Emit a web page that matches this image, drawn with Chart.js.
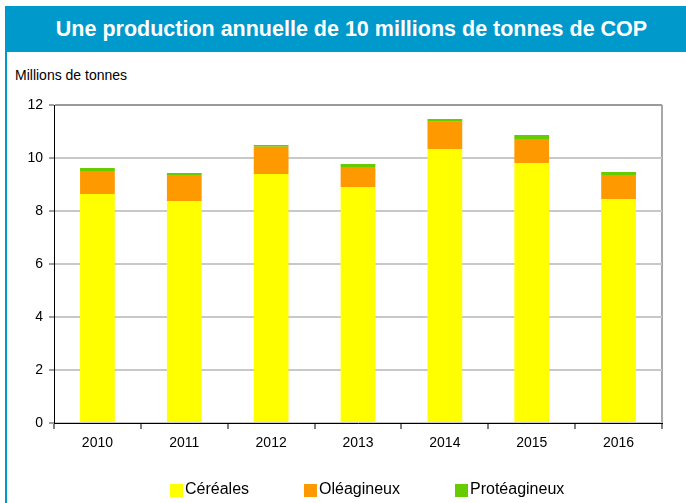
<!DOCTYPE html>
<html lang="fr">
<head>
    <meta charset="UTF-8">
    <title>Une production annuelle de 10 millions de tonnes de COP</title>
    <style>
        body {
            margin: 0;
            width: 686px;
            height: 503px;
            overflow: hidden;
            position: relative;
            background: #fff;
            font-family: "Liberation Sans", Arial, sans-serif;
        }
        #bandeau {
            position: absolute;
            left: 5px;
            top: 6px;
            width: 693px;
            height: 46px;
            background: #0099CC;
            color: #fff;
            font-weight: bold;
            font-size: 21.5px;
            line-height: 46px;
            text-align: center;
            white-space: nowrap;
        }
        #bord {
            position: absolute;
            left: 5px;
            top: 52px;
            width: 2px;
            height: 460px;
            background: #0099CC;
        }
        #unite {
            position: absolute;
            left: 15px;
            top: 67px;
            font-size: 14px;
            color: #000;
        }
        canvas {
            position: absolute;
            left: 0;
            top: 0;
        }
        #legende {
            position: absolute;
            left: 170px;
            top: 480px;
            display: flex;
            gap: 55px;
            font-size: 16px;
            color: #000;
        }
        #legende span.item {
            display: flex;
            align-items: center;
            gap: 2px;
        }
        #legende span.boite {
            display: inline-block;
            width: 13px;
            height: 13px;
            margin-top: 3px;
        }
    </style>
</head>
<body>
    <div id="bandeau">Une production annuelle de 10 millions de tonnes de COP</div>
    <div id="bord"></div>
    <div id="unite">Millions de tonnes</div>
    <canvas id="graph" width="686" height="503"></canvas>
    <div id="legende"></div>

    <script src="https://cdn.jsdelivr.net/npm/chart.js"></script>
    <script>
        // Données (millions de tonnes)
        const annees = ['2010', '2011', '2012', '2013', '2014', '2015', '2016'];
        const cereales = [8.64, 8.38, 9.40, 8.91, 10.34, 9.81, 8.45];
        const oleagineux = [0.87, 0.98, 1.02, 0.75, 1.03, 0.91, 0.91];
        const proteagineux = [0.11, 0.07, 0.07, 0.11, 0.10, 0.15, 0.11];

        const police = "'Liberation Sans', Arial, sans-serif";

        const series = [
            { label: 'Céréales', data: cereales, couleur: '#FFFF00' },
            { label: 'Oléagineux', data: oleagineux, couleur: '#FF9900' },
            { label: 'Protéagineux', data: proteagineux, couleur: '#66CC00' }
        ];

        const ctx = document.getElementById('graph').getContext('2d');
        new Chart(ctx, {
            type: 'bar',
            data: {
                labels: annees,
                datasets: series.map(s => ({
                    label: s.label,
                    data: s.data,
                    backgroundColor: s.couleur,
                    borderWidth: 0,
                    categoryPercentage: 0.8,
                    barPercentage: 0.5
                }))
            },
            options: {
                responsive: false,
                animation: false,
                layout: {
                    padding: { top: 105, right: 24, bottom: 0, left: 0 }
                },
                plugins: {
                    legend: { display: false },
                    tooltip: { enabled: false }
                },
                scales: {
                    x: {
                        stacked: true,
                        afterFit: s => { s.height = 80; },
                        border: { color: '#000', width: 1 },
                        grid: {
                            offset: true,
                            // seule la dernière ligne (bord droit du cadre) est visible
                            color: c => c.index === undefined ? '#a8a8a8' : 'rgba(0,0,0,0)',
                            lineWidth: 2,
                            tickColor: '#000',
                            tickWidth: 1,
                            tickLength: 6
                        },
                        ticks: {
                            color: '#000',
                            padding: 6,
                            font: { family: police, size: 14 }
                        }
                    },
                    y: {
                        stacked: true,
                        min: 0,
                        max: 12,
                        afterFit: s => { s.width = 54; },
                        border: { color: '#000', width: 1 },
                        grid: {
                            color: c => c.tick && c.tick.value === 12 ? '#9a9a9a' : '#c8c8c8',
                            lineWidth: 2,
                            tickColor: '#404040',
                            tickWidth: 1,
                            tickLength: 5
                        },
                        ticks: {
                            stepSize: 2,
                            color: '#000',
                            padding: 6,
                            font: { family: police, size: 14 }
                        }
                    }
                }
            }
        });

        // Légende
        const legende = document.getElementById('legende');
        series.forEach(s => {
            const item = document.createElement('span');
            item.className = 'item';
            item.innerHTML = `<span class="boite" style="background:${s.couleur}"></span>${s.label}`;
            legende.appendChild(item);
        });
    </script>
</body>
</html>
